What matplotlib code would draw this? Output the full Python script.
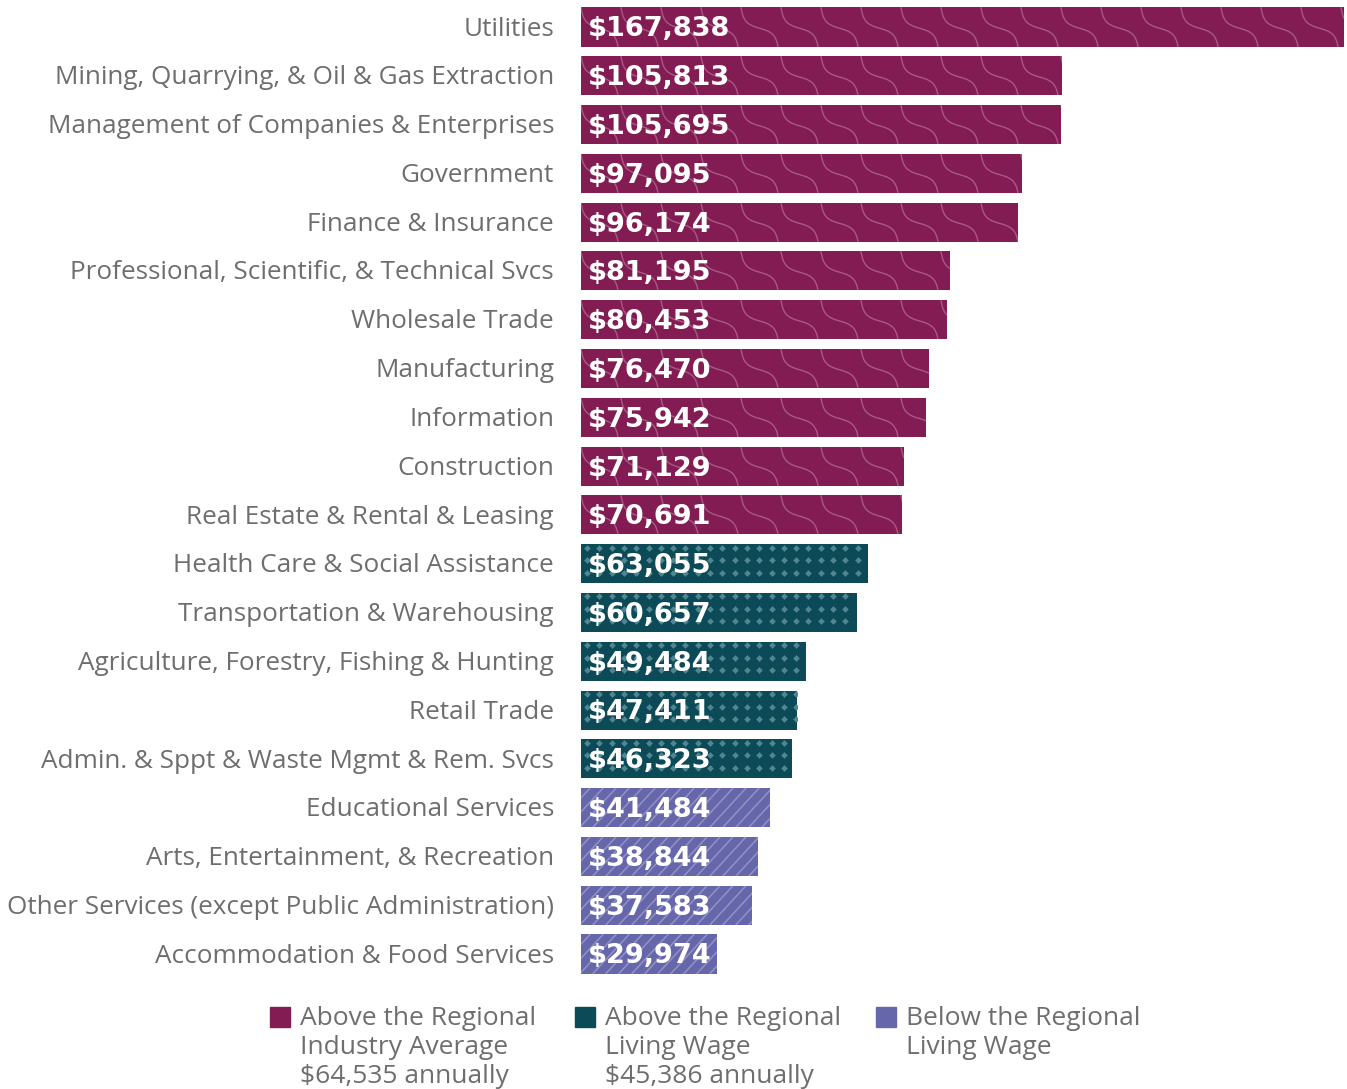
import numpy as np
import matplotlib
matplotlib.use("Agg")
import matplotlib.pyplot as plt
from matplotlib.patches import Rectangle

categories = [
    "Utilities",
    "Mining, Quarrying, & Oil & Gas Extraction",
    "Management of Companies & Enterprises",
    "Government",
    "Finance & Insurance",
    "Professional, Scientific, & Technical Svcs",
    "Wholesale Trade",
    "Manufacturing",
    "Information",
    "Construction",
    "Real Estate & Rental & Leasing",
    "Health Care & Social Assistance",
    "Transportation & Warehousing",
    "Agriculture, Forestry, Fishing & Hunting",
    "Retail Trade",
    "Admin. & Sppt & Waste Mgmt & Rem. Svcs",
    "Educational Services",
    "Arts, Entertainment, & Recreation",
    "Other Services (except Public Administration)",
    "Accommodation & Food Services",
]
values = [167838, 105813, 105695, 97095, 96174, 81195, 80453, 76470, 75942,
          71129, 70691, 63055, 60657, 49484, 47411, 46323, 41484, 38844, 37583, 29974]
groups = [0]*11 + [1]*5 + [2]*4

legend_labels = [
    "Above the Regional\nIndustry Average\n$64,535 annually",
    "Above the Regional\nLiving Wage\n$45,386 annually",
    "Below the Regional\nLiving Wage",
]

colors = ["#821C53", "#0B4A56", "#6666AA"]
pattern_colors = ["#B8739A", "#4F8690", "#9A9ACC"]
label_color = "#6E6E6E"
label_font = "Open Sans"

W, H = 1347, 1089
fig = plt.figure(figsize=(W/100, H/100), dpi=100)
left, right = 581/W, 1344/W
top, bottom = 1 - 2.6/H, 1 - 978.4/H
ax = fig.add_axes([left, bottom, right-left, top-bottom])

n = len(categories)
ypos = np.arange(n)
xmax = values[0]
ax.set_xlim(0, xmax)
ax.set_ylim(n - 0.5, -0.5)
ax.axis("off")

bar_h = 0.8
bars = ax.barh(ypos, values, height=bar_h, color=[colors[g] for g in groups],
               linewidth=0)

px_x = xmax / 763.0
px_y = 1 / 48.8

# wave geometry (pixels)
theta = np.deg2rad(48)
d = np.array([np.cos(theta), np.sin(theta)])
nrm = np.array([-np.sin(theta), np.cos(theta)])
L, A = 56.0, 5.5
s = np.linspace(-10, 80, 120)

for b, v, g, y in zip(bars, values, groups, ypos):
    y0 = y - bar_h/2
    y1 = y + bar_h/2
    if g == 0:
        for x0 in np.arange(-80, v/px_x + 40, 40):
            off = A*np.sin(2*np.pi*s/L)
            xp = x0 + s*d[0] + off*nrm[0]
            yp = s*d[1] + off*nrm[1]
            ln, = ax.plot(xp*px_x, y0 + yp*px_y, color=pattern_colors[0],
                          lw=1.0, alpha=0.7)
            ln.set_clip_path(b)
    elif g == 1:
        gx = np.arange(6, v/px_x, 12.3) * px_x
        gy = y0 + np.arange(3.5, 40, 12.5) * px_y
        XX, YY = np.meshgrid(gx, gy)
        pts, = ax.plot(XX.ravel(), YY.ravel(), ls="none", marker="D",
                       ms=3.4, mec="none", mfc=pattern_colors[1])
        pts.set_clip_path(b)
    else:
        for x0 in np.arange(-40, v/px_x + 40, 13):
            xs = np.array([x0, x0 + 36]) * px_x
            ys = np.array([y1, y0])
            ln, = ax.plot(xs, ys, color=pattern_colors[2], lw=1.1, alpha=0.85)
            ln.set_clip_path(b)
    ax.text(7*px_x, y + 0.05, f"${v:,}", color="white", fontsize=19.5,
            fontweight="bold", family="DejaVu Sans", va="center", ha="left")

for y, c in zip(ypos, categories):
    fig.text(554/W, 1 - (29 + 48.8*y)/H, c, color=label_color, fontsize=18.8,
             family=label_font, ha="right", va="center")

leg_x = [270, 575, 876]
for lx, lab, col in zip(leg_x, legend_labels, colors):
    fig.patches.append(Rectangle((lx/W, 1 - 1027/H), 20/W, 20/H,
                                 transform=fig.transFigure, color=col))
    fig.text((lx+30)/W, 1 - 1006/H, lab, color=label_color, fontsize=19,
             family=label_font, ha="left", va="top",
             linespacing=1.21)

fig.savefig("out.png", dpi=100)
